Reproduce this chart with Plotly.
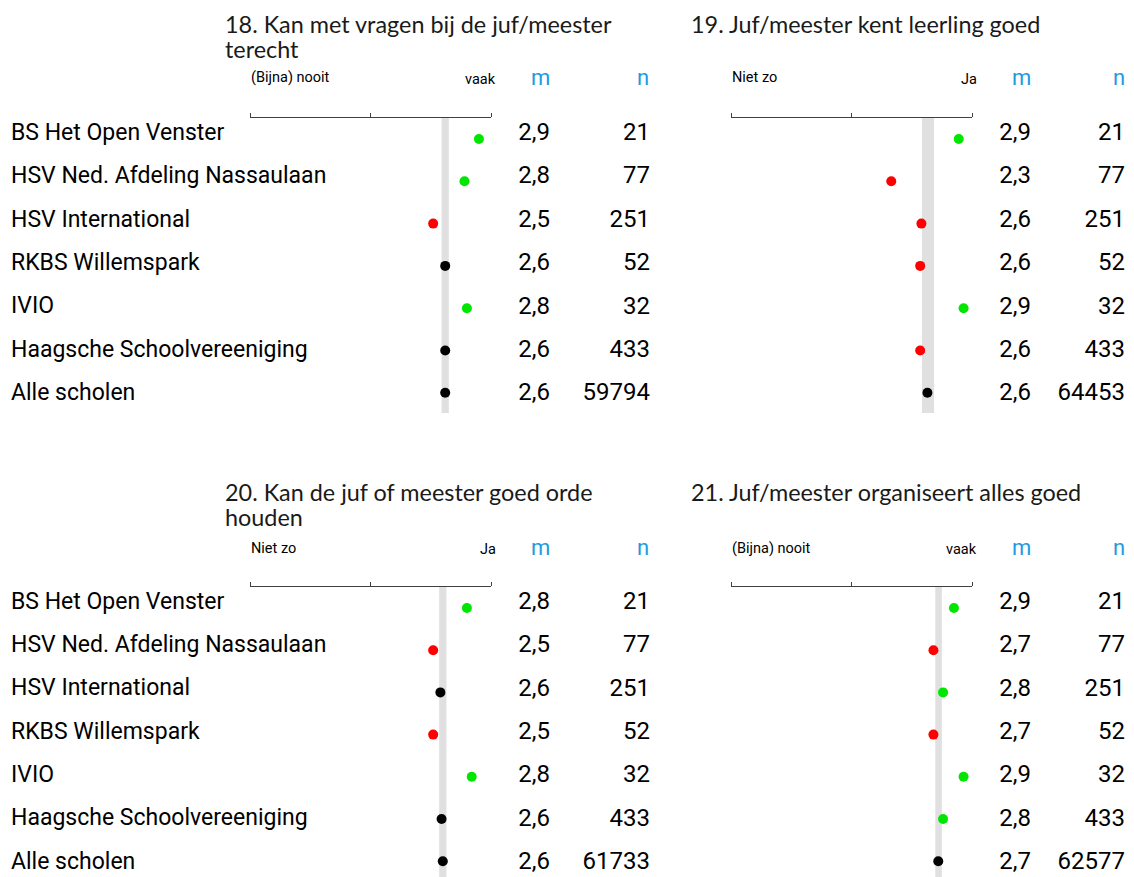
import plotly.graph_objects as go

# page offset: the browser page has an 8px body margin
OFF = 8
W, H = 1134 - OFF, 877 - OFF
RIGHT_LIMIT = 1125   # visible right edge of the page

# ---------------- data ----------------
schools = ["BS Het Open Venster", "HSV Ned. Afdeling Nassaulaan", "HSV International",
           "RKBS Willemspark", "IVIO", "Haagsche Schoolvereeniging", "Alle scholen"]

title_q18 = ["18. Kan met vragen bij de juf/meester", "terecht"]
title_q19 = ["19. Juf/meester kent leerling goed"]
title_q20 = ["20. Kan de juf of meester goed orde", "houden"]
title_q21 = ["21. Juf/meester organiseert alles goed"]

low_q18, high_q18 = "(Bijna) nooit", "vaak"
low_q19, high_q19 = "Niet zo", "Ja"
low_q20, high_q20 = "Niet zo", "Ja"
low_q21, high_q21 = "(Bijna) nooit", "vaak"

mean_q18 = [2.90, 2.78, 2.52, 2.62, 2.80, 2.62, 2.62]
mean_q19 = [2.89, 2.33, 2.58, 2.57, 2.93, 2.57, 2.63]
mean_q20 = [2.80, 2.52, 2.58, 2.52, 2.84, 2.59, 2.60]
mean_q21 = [2.85, 2.68, 2.76, 2.68, 2.93, 2.76, 2.72]

n_q18 = [21, 77, 251, 52, 32, 433, 59794]
n_q19 = [21, 77, 251, 52, 32, 433, 64453]
n_q20 = [21, 77, 251, 52, 32, 433, 61733]
n_q21 = [21, 77, 251, 52, 32, 433, 62577]

# comparison with all schools: hoger / lager / gelijk
cmp_q18 = ["hoger", "hoger", "lager", "gelijk", "hoger", "gelijk", "gelijk"]
cmp_q19 = ["hoger", "lager", "lager", "lager", "hoger", "lager", "gelijk"]
cmp_q20 = ["hoger", "lager", "gelijk", "lager", "hoger", "gelijk", "gelijk"]
cmp_q21 = ["hoger", "lager", "hoger", "lager", "hoger", "hoger", "gelijk"]

# reference band (all schools)
band_q18 = [2.59, 2.65]
band_q19 = [2.585, 2.685]
band_q20 = [2.57, 2.63]
band_q21 = [2.695, 2.75]

scale_min, scale_mid, scale_max = 1, 2, 3

# ---------------- styling ----------------
COLORS = {"hoger": "#00E600", "lager": "#FF0000", "gelijk": "#000000"}
BLUE = "#1E9BE0"
BAND = "#E0E0E0"
LABEL_FONT = "Roboto"
TITLE_FONT = "Lato"

def px(x):
    return (x - OFF) / W

def py(y):
    return 1 - (y - OFF) / H

panels = [
    dict(title=title_q18, low=low_q18, high=high_q18, mean=mean_q18, n=n_q18, cmp=cmp_q18, band=band_q18, col=0, row=0),
    dict(title=title_q19, low=low_q19, high=high_q19, mean=mean_q19, n=n_q19, cmp=cmp_q19, band=band_q19, col=1, row=0),
    dict(title=title_q20, low=low_q20, high=high_q20, mean=mean_q20, n=n_q20, cmp=cmp_q20, band=band_q20, col=0, row=1),
    dict(title=title_q21, low=low_q21, high=high_q21, mean=mean_q21, n=n_q21, cmp=cmp_q21, band=band_q21, col=1, row=1),
]

COL_X = [0, 481]          # horizontal offset of the right column
AXIS_X = (250, 491)       # axis left/right pixels (left column)
ROWS = [
    dict(axis=118, bottom=413, dot0=139, dstep=42.3, txt0=134, tstep=43.4, title=24, head=77),
    dict(axis=587, bottom=877, dot0=608, dstep=42.2, txt0=603, tstep=43.3, title=492, head=547),
]

fig = go.Figure()
layout = dict(
    width=W, height=H, margin=dict(l=0, r=0, t=0, b=0),
    paper_bgcolor="white", plot_bgcolor="rgba(0,0,0,0)", showlegend=False,
)
annotations = []
shapes = []
nrows = len(schools)

# text axes (full width, pixel range) for the two rows
layout["xaxis9"] = dict(domain=[0, 1], range=[OFF, OFF + W], visible=False, fixedrange=True)
for r, R in enumerate(ROWS):
    top = -(R["txt0"] - R["axis"]) / R["tstep"]
    bot = (nrows - 1) + (R["bottom"] - (R["txt0"] + (nrows - 1) * R["tstep"])) / R["tstep"]
    layout["yaxis%d" % (9 + r)] = dict(domain=[max(0, py(R["bottom"])), py(R["axis"])], range=[bot, top],
                                       visible=False, anchor="x9", fixedrange=True)

for i, p in enumerate(panels):
    k = i + 1
    R = ROWS[p["row"]]
    off = COL_X[p["col"]]
    x0, x1 = AXIS_X[0] + off, AXIS_X[1] + off
    xa = "xaxis" if k == 1 else "xaxis%d" % k
    ya = "yaxis" if k == 1 else "yaxis%d" % k
    xr = "x" if k == 1 else "x%d" % k
    yr = "y" if k == 1 else "y%d" % k
    layout[xa] = dict(domain=[px(x0), px(x1)], range=[scale_min, scale_max], side="top", anchor=yr,
                      showline=True, linecolor="#404040", linewidth=1, ticks="outside", ticklen=4,
                      tickcolor="#404040", tickvals=[scale_min, scale_mid, scale_max],
                      showticklabels=False, showgrid=False, zeroline=False, fixedrange=True)
    top = -(R["dot0"] - R["axis"]) / R["dstep"]
    bot = (nrows - 1) + (R["bottom"] - (R["dot0"] + (nrows - 1) * R["dstep"])) / R["dstep"]
    layout[ya] = dict(domain=[max(0, py(R["bottom"])), py(R["axis"])], range=[bot, top], anchor=xr,
                      visible=False, fixedrange=True)

    # reference band
    shapes.append(dict(type="rect", xref=xr, yref=yr + " domain", x0=p["band"][0], x1=p["band"][1],
                       y0=0, y1=1, fillcolor=BAND, line=dict(width=0), layer="below"))

    # dots
    fig.add_trace(go.Scatter(x=p["mean"], y=list(range(nrows)), mode="markers", xaxis=xr, yaxis=yr,
                             marker=dict(size=10, color=[COLORS[c] for c in p["cmp"]]),
                             hoverinfo="skip"))

    # text columns
    ty = "y%d" % (9 + p["row"])
    rows_idx = list(range(nrows))
    if p["col"] == 0:
        fig.add_trace(go.Scatter(x=[11] * nrows, y=rows_idx, mode="text", text=schools,
                                 textposition="middle right", xaxis="x9", yaxis=ty, cliponaxis=False,
                                 textfont=dict(family=LABEL_FONT, size=23, color="black"),
                                 hoverinfo="skip"))
    m_txt = [("%.1f" % v).replace(".", ",") for v in p["mean"]]
    fig.add_trace(go.Scatter(x=[550 + off] * nrows, y=rows_idx, mode="text", text=m_txt,
                             textposition="middle left", xaxis="x9", yaxis=ty, cliponaxis=False,
                             textfont=dict(family=LABEL_FONT, size=24, color="black"),
                             hoverinfo="skip"))
    n_x = min(650 + off, RIGHT_LIMIT)
    fig.add_trace(go.Scatter(x=[n_x] * nrows, y=rows_idx, mode="text", text=[str(v) for v in p["n"]],
                             textposition="middle left", xaxis="x9", yaxis=ty, cliponaxis=False,
                             textfont=dict(family=LABEL_FONT, size=24, color="black"),
                             hoverinfo="skip"))

    # titles
    tx = 223 if p["col"] == 0 else 689
    for j, line in enumerate(p["title"]):
        annotations.append(dict(x=px(tx), y=py(R["title"] + 25 * j), xref="paper", yref="paper",
                                text=line, showarrow=False, xanchor="left", yanchor="middle",
                                font=dict(family=TITLE_FONT, size=23.4, color="#1a1a1a")))
    # scale end labels
    annotations.append(dict(x=px(x0 - 1), y=py(R["head"] + 1), xref="paper", yref="paper", text=p["low"],
                            showarrow=False, xanchor="left", yanchor="middle",
                            font=dict(family=LABEL_FONT, size=14.5, color="black")))
    annotations.append(dict(x=px(x1 + 7), y=py(R["head"] + 2), xref="paper", yref="paper", text=p["high"],
                            showarrow=False, xanchor="right", yanchor="middle",
                            font=dict(family=LABEL_FONT, size=14.5, color="black")))
    # m / n headers
    annotations.append(dict(x=px(540 + off), y=py(R["head"]), xref="paper", yref="paper", text="m",
                            showarrow=False, xanchor="center", yanchor="middle",
                            font=dict(family=LABEL_FONT, size=22, color=BLUE)))
    annotations.append(dict(x=px(min(643 + off, RIGHT_LIMIT - 6)), y=py(R["head"]), xref="paper", yref="paper",
                            text="n", showarrow=False, xanchor="center", yanchor="middle",
                            font=dict(family=LABEL_FONT, size=22, color=BLUE)))

layout["annotations"] = annotations
layout["shapes"] = shapes
fig.update_layout(**layout)
fig.write_html("out.html")
